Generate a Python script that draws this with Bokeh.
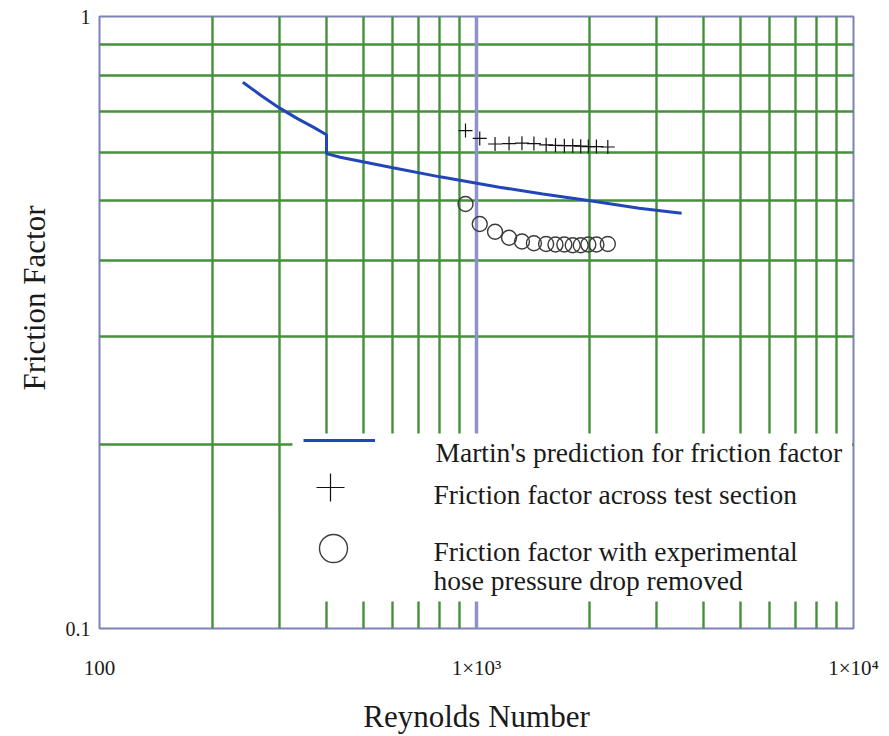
from bokeh.plotting import figure
from bokeh.models import FixedTicker, Grid, Label, BoxAnnotation, Legend, LegendItem, Title
from bokeh.embed import file_html
from bokeh.resources import INLINE

# Martin's correlation for the friction factor (laminar/turbulent switch at Re = 400)
re_martin = [240, 270, 300, 335, 370, 400, 400, 435, 600, 800, 1150, 1500, 2000, 2700, 3500]
f_martin = [0.781, 0.741, 0.709, 0.681, 0.659, 0.641, 0.597, 0.589, 0.566, 0.547, 0.526,
            0.513, 0.500, 0.486, 0.477]

# Measured runs
re_exp = [935, 1020, 1120, 1220, 1320, 1420, 1530, 1620, 1710, 1800, 1890, 1980, 2080, 2230]
f_test = [0.651, 0.632, 0.619, 0.620, 0.621, 0.620, 0.617, 0.616, 0.615, 0.615, 0.614,
          0.613, 0.613, 0.612]
f_hose = [0.494, 0.458, 0.445, 0.435, 0.429, 0.426, 0.425, 0.424, 0.424, 0.423, 0.423,
          0.424, 0.424, 0.425]

x_ticks = [100, 1000, 10000]
x_tick_labels = {100: "100", 1000: "1×10³", 10000: "1×10⁴"}
y_ticks = [0.1, 1]
y_tick_labels = {0.1: "0.1", 1: "1"}
x_grid = [200, 300, 400, 500, 600, 700, 800, 900,
          2000, 3000, 4000, 5000, 6000, 7000, 8000, 9000]
y_grid = [0.2, 0.3, 0.4, 0.5, 0.6, 0.7, 0.8, 0.9]

legend_texts = ["Martin's prediction for friction factor",
                "Friction factor across test section",
                "Friction factor with experimental",
                "hose pressure drop removed"]

W, H = 889, 736
FL, FR, FT, FB = 99, 853, 16, 628   # frame edges in canvas pixels
SERIF = "Liberation Serif"
GREEN = "#45903b"
FRAME = "#7d82b8"
BLUE = "#2246b8"
INK = "#1a1a1a"


def data_x(px):
    return 100 * 10 ** (2 * (px - FL) / (FR - FL))


def data_y(py):
    return 10 ** (-(py - FT) / (FB - FT))


p = figure(width=W, height=H, x_axis_type="log", y_axis_type="log",
           x_range=(100, 10000), y_range=(0.1, 1),
           output_backend="svg", toolbar_location=None,
           min_border_left=FL, min_border_right=W - FR,
           min_border_top=FT, min_border_bottom=H - FB)
p.background_fill_color = "white"
p.border_fill_color = "white"
p.outline_line_color = FRAME
p.outline_line_width = 2

for ax, ticks, labels in ((p.xaxis, x_ticks, x_tick_labels), (p.yaxis, y_ticks, y_tick_labels)):
    ax.ticker = FixedTicker(ticks=ticks)
    ax.major_label_overrides = labels
    ax.axis_line_color = None
    ax.major_tick_line_color = None
    ax.minor_tick_line_color = None
    ax.major_label_text_font = SERIF
    ax.major_label_text_color = INK
p.xaxis.major_label_text_font_size = "21px"
p.yaxis.major_label_text_font_size = "20px"
p.xaxis.major_label_standoff = 21
p.yaxis.major_label_standoff = 3

p.xaxis.axis_label = "Reynolds Number"
p.xaxis.axis_label_text_font = SERIF
p.xaxis.axis_label_text_font_size = "31px"
p.xaxis.axis_label_text_font_style = "normal"
p.xaxis.axis_label_text_color = INK
p.xaxis.axis_label_standoff = 16

p.add_layout(Title(text="Friction Factor", align="right", offset=189, standoff=18,
                   vertical_align="top",
                   text_font=SERIF, text_font_size="31px", text_font_style="normal",
                   text_color=INK), "left")

p.xgrid.ticker = FixedTicker(ticks=x_grid)
p.ygrid.ticker = FixedTicker(ticks=y_grid)
for g in (p.xgrid, p.ygrid):
    g.grid_line_color = GREEN
    g.grid_line_width = 2.4
p.add_layout(Grid(dimension=0, ticker=FixedTicker(ticks=[1000]),
                  grid_line_color="#8d93c6", grid_line_width=3.5))

r_line = p.line(re_martin, f_martin, line_color=BLUE, line_width=3)
r_plus = p.scatter(re_exp, f_test, marker="cross", size=14,
                   line_color="#111111", line_width=1.2)
r_circ = p.scatter(re_exp, f_hose, marker="circle", size=15, fill_color=None,
                   line_color="#3c3c3c", line_width=1.4)

# legend panel
p.add_layout(BoxAnnotation(left=data_x(292), right=data_x(851.5),
                           bottom=data_y(601), top=data_y(433),
                           fill_color="white", fill_alpha=1, line_color=None))


def sample(renderer, cx, cy, gw, gh):
    leg = Legend(items=[LegendItem(label=" ", renderers=[renderer])],
                 location=(cx - gw / 2 - FL, FB - (cy + gh / 2)),
                 glyph_width=gw, glyph_height=gh, label_width=0, label_height=gh,
                 label_standoff=0, padding=0, margin=0, spacing=0,
                 border_line_color=None, background_fill_alpha=0,
                 label_text_font_size="1px")
    p.add_layout(leg, "center")


sample(r_line, 339, 440, 72, 4)
sample(r_plus, 330, 487, 70, 70)
sample(r_circ, 333, 548, 70, 70)

for txt, (px, py) in zip(legend_texts, [(435, 452), (433, 494), (433, 551), (433, 580)]):
    p.add_layout(Label(x=data_x(px), y=data_y(py), text=txt, text_font=SERIF,
                       text_font_size="27.5px", text_align="left", text_baseline="middle",
                       text_color=INK))

open("out.html", "w").write(file_html(p, INLINE))
